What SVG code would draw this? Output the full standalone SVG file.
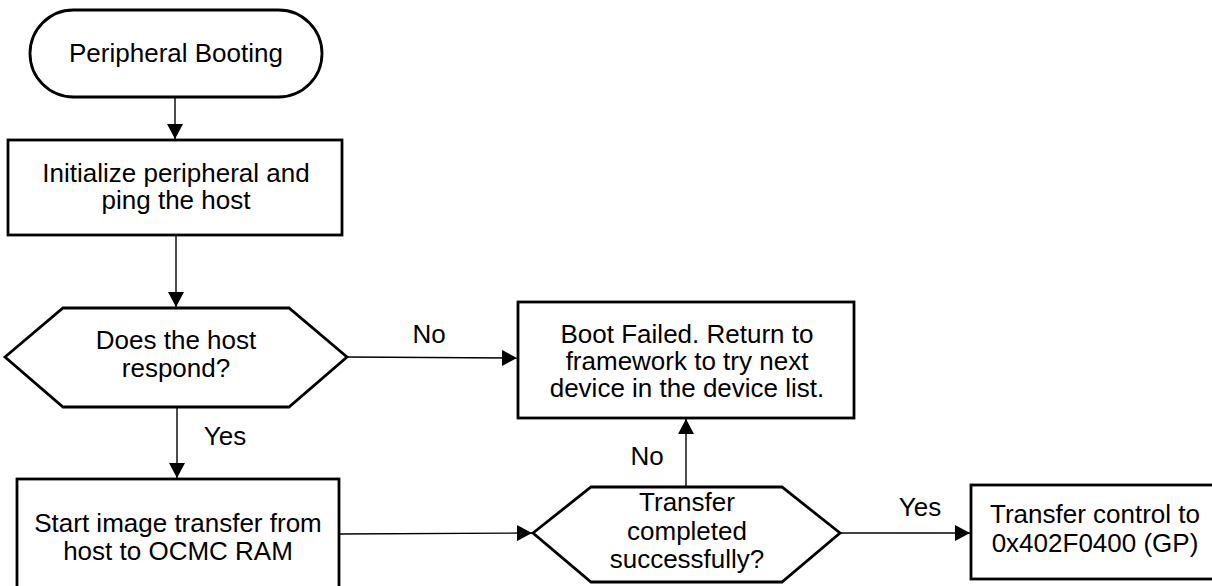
<svg xmlns="http://www.w3.org/2000/svg" width="1212" height="586" viewBox="0 0 1212 586">
<defs>
<marker id="arr" viewBox="0 0 15 16" refX="15" refY="8" markerWidth="15" markerHeight="16" markerUnits="userSpaceOnUse" orient="auto">
<path d="M0,0 L15,8 L0,16 Z" fill="#000"/>
</marker>
<style>
.n{fill:#fff;stroke:#000;stroke-width:2.8}
.t{font-family:"Liberation Sans",Arial,sans-serif;font-size:26px;fill:#000;text-anchor:middle}
.c{fill:none;stroke:#000;stroke-width:1.4;marker-end:url(#arr)}
</style>
</defs>
<rect width="1212" height="586" fill="#fff"/>
<g id="connectors">
<line class="c" x1="175" y1="97" x2="175" y2="139"/>
<line class="c" x1="176" y1="235" x2="176" y2="307"/>
<line class="c" x1="177" y1="407" x2="177" y2="478"/>
<line class="c" x1="347" y1="357" x2="517" y2="358"/>
<line class="c" x1="339" y1="534" x2="532" y2="533"/>
<line class="c" x1="686" y1="487" x2="686" y2="419"/>
<line class="c" x1="840" y1="533" x2="970" y2="533"/>
<text class="t" x="429" y="343">No</text>
<text class="t" x="225" y="445">Yes</text>
<text class="t" x="647" y="465">No</text>
<text class="t" x="920" y="516">Yes</text>
</g>
<g id="start">
<rect class="n" x="30" y="10" width="292" height="87" rx="43.5" ry="43.5"/>
<text class="t" x="176" y="62">Peripheral Booting</text>
</g>
<g id="init">
<rect class="n" x="8" y="140" width="334" height="95"/>
<text class="t" x="176" y="182">Initialize peripheral and</text>
<text class="t" x="176" y="209">ping the host</text>
</g>
<g id="respond">
<polygon class="n" points="5,357 63,308 289,308 347,357 289,407 63,407"/>
<text class="t" x="176" y="349">Does the host</text>
<text class="t" x="176" y="377">respond?</text>
</g>
<g id="transfer">
<rect class="n" x="17" y="479" width="322" height="120"/>
<text class="t" x="178" y="532">Start image transfer from</text>
<text class="t" x="178" y="560">host to OCMC RAM</text>
</g>
<g id="failed">
<rect class="n" x="518" y="302" width="336" height="116"/>
<text class="t" x="687" y="343">Boot Failed. Return to</text>
<text class="t" x="687" y="370">framework to try next</text>
<text class="t" x="687" y="397">device in the device list.</text>
</g>
<g id="completed">
<polygon class="n" points="533,533 591,487 782,487 840,533 782,582 591,582"/>
<text class="t" x="687" y="511">Transfer</text>
<text class="t" x="687" y="540">completed</text>
<text class="t" x="687" y="568">successfully?</text>
</g>
<g id="control">
<rect class="n" x="971" y="485" width="245" height="94"/>
<text class="t" x="1095" y="523">Transfer control to</text>
<text class="t" x="1095" y="552">0x402F0400 (GP)</text>
</g>
</svg>
